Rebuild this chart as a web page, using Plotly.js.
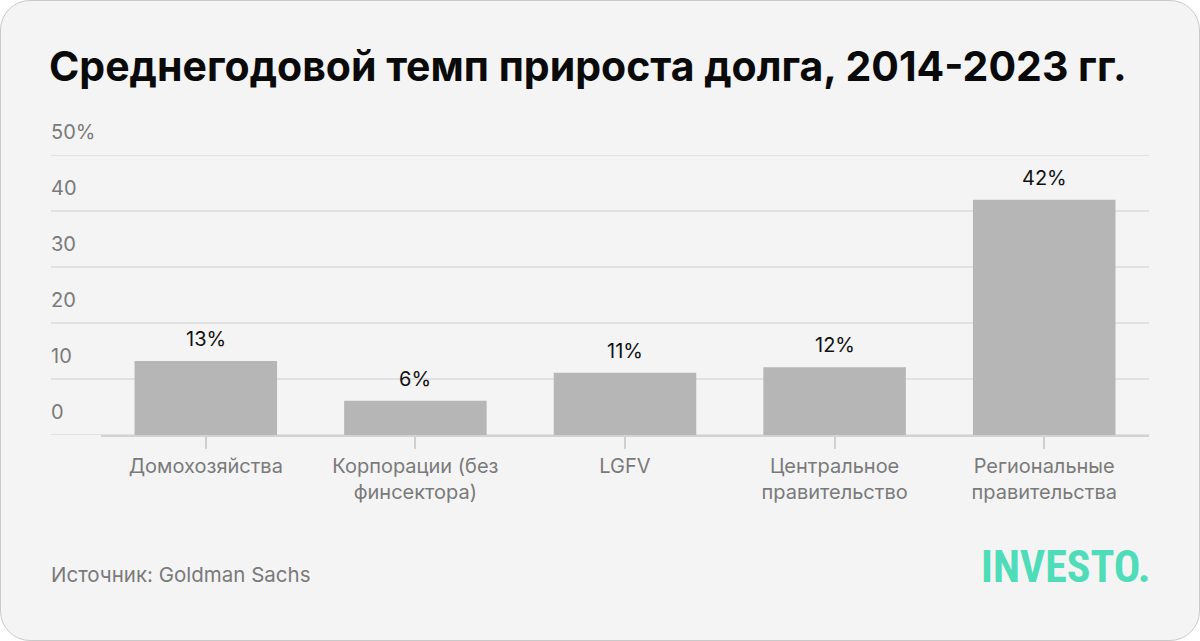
<!DOCTYPE html>
<html>
<head>
<meta charset="utf-8">
<script src="https://cdn.plot.ly/plotly-3.0.1.min.js"></script>
<style>
  html, body { margin: 0; padding: 0; background: #ffffff; }
  #card { position: absolute; left: 0; top: 0; width: 1200px; height: 641px; box-sizing: border-box;
          background: #f4f4f4; border: 1px solid #c9c9c9; border-radius: 30px; overflow: hidden; }
  #chart { position: absolute; left: 0; top: 0; width: 1200px; height: 641px; }
</style>
</head>
<body>
<div id="card"><div id="chart"></div></div>
<script>
const categories = ['Домохозяйства', 'Корпорации (без<br>финсектора)', 'LGFV', 'Центральное<br>правительство', 'Региональные<br>правительства'];
const values = [13.2, 6.1, 11.1, 12.1, 42.0];
const valueLabels = ['13%', '6%', '11%', '12%', '42%'];
const yTicks = [0, 10, 20, 30, 40, 50];
const yTickLabels = ['0', '10', '20', '30', '40', '50%'];
const titleText = 'Среднегодовой темп прироста долга, 2014-2023 гг.';
const sourceText = 'Источник: Goldman Sachs';
const brandText = 'INVESTO.';

const W = 1200, H = 641;
const ml = 100, mr = 52, mt = 154, mb = 207;
const pw = W - ml - mr, ph = H - mt - mb;
const gridLeft = (50 - ml) / pw;
const FONT = 'Inter, Roboto, sans-serif';

const shapes = yTicks.map(v => ({
  type: 'line', xref: 'paper', yref: 'y', x0: gridLeft, x1: 1, y0: v, y1: v,
  line: { color: '#e1e1e1', width: 2 }, layer: 'below'
}));

const annotations = yTicks.map((v, i) => ({
  xref: 'paper', yref: 'y', x: gridLeft, y: v, xanchor: 'left', yanchor: 'bottom',
  xshift: -2, yshift: 9, text: yTickLabels[i], showarrow: false,
  font: { family: FONT, size: 20, color: '#7a7a7a' }
}));

// value labels above bars
categories.forEach((c, i) => {
  annotations.push({
    xref: 'x', yref: 'y', x: c, y: values[i], xanchor: 'center', yanchor: 'bottom',
    yshift: 8, text: valueLabels[i], showarrow: false,
    font: { family: FONT, size: 20, color: '#111111' }
  });
});

annotations.push({
  xref: 'paper', yref: 'paper', x: (50 - ml) / pw, y: -(573 - (H - mb)) / ph,
  xanchor: 'left', yanchor: 'middle', xshift: -2,
  text: sourceText, showarrow: false,
  font: { family: FONT, size: 20.5, color: '#7a7a7a' }
});

annotations.push({
  xref: 'paper', yref: 'paper', x: (1152 - ml) / pw, y: -(566 - (H - mb)) / ph,
  xanchor: 'right', yanchor: 'middle', text: '<b>' + brandText + '</b>', showarrow: false,
  font: { family: '"Liberation Sans Narrow", "Roboto Condensed", sans-serif', size: 44, color: '#4fdcb8' }
});

const trace = {
  type: 'bar', x: categories, y: values,
  marker: { color: '#b6b6b6' }, hoverinfo: 'skip'
};

const layout = {
  width: W, height: H,
  paper_bgcolor: 'rgba(0,0,0,0)', plot_bgcolor: 'rgba(0,0,0,0)',
  margin: { l: ml, r: mr, t: mt, b: mb, pad: 0 },
  bargap: 0.32,
  showlegend: false,
  title: {
    text: '<b>' + titleText + '</b>', xref: 'container', yref: 'container',
    x: 48 / W, xanchor: 'left', y: 1 - 66 / H, yanchor: 'middle',
    font: { family: 'Inter, Roboto, sans-serif', size: 41, color: '#0a0a0a' }
  },
  xaxis: {
    type: 'category', showgrid: false, zeroline: false,
    showline: true, linecolor: '#d2d2d2', linewidth: 2,
    ticks: 'outside', ticklen: 12, tickwidth: 2, tickcolor: '#cfcfcf',
    tickfont: { family: FONT, size: 20, color: '#7a7a7a' },
    fixedrange: true
  },
  yaxis: {
    range: [0, 50], showgrid: false, zeroline: false, showticklabels: false,
    ticks: '', fixedrange: true
  },
  shapes: shapes,
  annotations: annotations
};

Plotly.newPlot('chart', [trace], layout, { displayModeBar: false, staticPlot: true });
</script>
</body>
</html>
